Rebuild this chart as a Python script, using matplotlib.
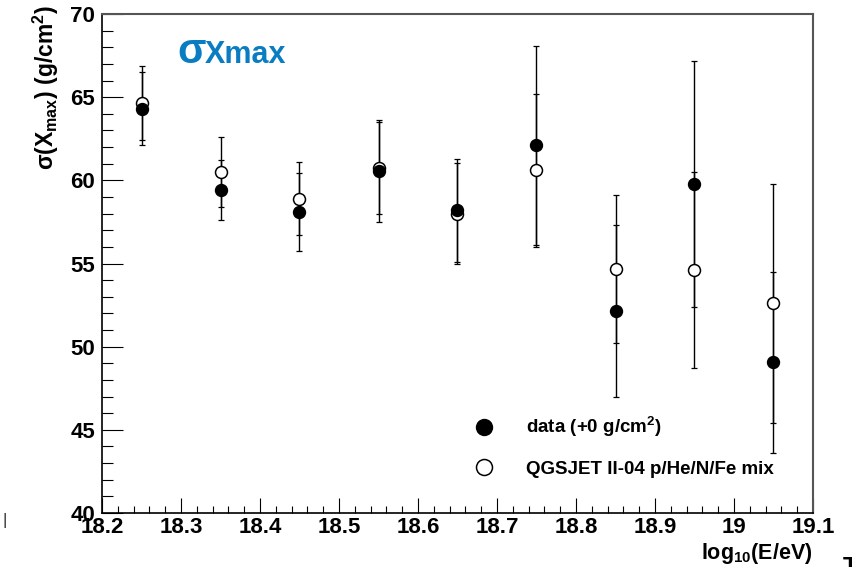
import matplotlib
matplotlib.use("Agg")
import matplotlib.pyplot as plt
from matplotlib.lines import Line2D
from matplotlib.ticker import MultipleLocator, FormatStrFormatter

plt.rcParams["font.family"] = ["Liberation Sans", "DejaVu Sans"]
plt.rcParams["font.weight"] = "bold"
plt.rcParams["mathtext.fontset"] = "custom"
plt.rcParams["mathtext.rm"] = "Liberation Sans"
plt.rcParams["mathtext.bf"] = "Liberation Sans:bold"
plt.rcParams["mathtext.it"] = "Liberation Sans:italic"

# log10(E/eV) bin centres
log_energy = [18.25, 18.35, 18.45, 18.55, 18.65, 18.75, 18.85, 18.95, 19.05]

# measured sigma(Xmax) and its uncertainty [g/cm^2]
data_sigma = [64.3, 59.4, 58.1, 60.55, 58.2, 62.1, 52.15, 59.8, 49.05]
data_err = [2.2, 1.8, 2.33, 3.05, 3.1, 6.0, 5.16, 7.4, 5.44]

# QGSJET II-04 p/He/N/Fe mixture prediction
model_sigma = [64.65, 60.5, 58.9, 60.75, 58.0, 60.6, 54.67, 54.6, 52.6]
model_err = [2.25, 2.1, 2.2, 2.77, 3.05, 4.6, 4.43, 5.9, 7.2]

data_label = "data (+0 g/cm$^{\\mathbf{2}}$)"
model_label = "QGSJET II-04 p/He/N/Fe mix"

fig = plt.figure(figsize=(8.52, 5.67), dpi=100)
ax = fig.add_axes([102 / 852, 1 - 513 / 567, 711 / 852, 499 / 567])

# error bars first, then the open and filled markers on top
ax.errorbar(log_energy, model_sigma, yerr=model_err, fmt="none", ecolor="black",
            elinewidth=1.0, capsize=2.5, capthick=0.9, zorder=2)
ax.errorbar(log_energy, data_sigma, yerr=data_err, fmt="none", ecolor="black",
            elinewidth=1.0, capsize=2.5, capthick=0.9, zorder=2)
ax.plot(log_energy, model_sigma, linestyle="none", marker="o", markersize=8.6,
        markerfacecolor="white", markeredgecolor="black", markeredgewidth=1.1, zorder=3)
ax.plot(log_energy, data_sigma, linestyle="none", marker="o", markersize=8.6,
        markerfacecolor="black", markeredgecolor="black", zorder=4)

ax.set_xlim(18.2, 19.1)
ax.set_ylim(40, 70)

ax.xaxis.set_major_locator(MultipleLocator(0.1))
ax.xaxis.set_minor_locator(MultipleLocator(0.02))
ax.yaxis.set_major_locator(MultipleLocator(5))
ax.yaxis.set_minor_locator(MultipleLocator(1))
ax.xaxis.set_major_formatter(FormatStrFormatter("%g"))
ax.yaxis.set_major_formatter(FormatStrFormatter("%g"))

ax.tick_params(axis="both", which="both", direction="in", top=False, right=False,
               width=0.8, color="black", labelsize=16)
ax.tick_params(axis="x", which="major", length=11, pad=3)
ax.tick_params(axis="x", which="minor", length=5)
ax.tick_params(axis="y", which="major", length=15, pad=5)
ax.tick_params(axis="y", which="minor", length=8)
for lab in ax.get_xticklabels() + ax.get_yticklabels():
    lab.set_fontweight("bold")

for side in ("left", "bottom"):
    ax.spines[side].set_linewidth(1.2)
    ax.spines[side].set_color("black")
for side in ("top", "right"):
    ax.spines[side].set_linewidth(1.5)
    ax.spines[side].set_color("#555555")

# axis titles
fig.text(813 / 852, 1 - 553 / 567, "log$_{\\mathbf{10}}$(E/eV)", ha="right", va="center",
         fontsize=15.5, fontweight="bold")
fig.text(46 / 852, 1 - 5 / 567,
         "$\\mathrm{\\sigma}$(X$_{\\mathbf{max}}$) (g/cm$^{\\mathbf{2}}$)",
         rotation=90, ha="center", va="top", fontsize=16.5, fontweight="bold")

# panel title
blue = "#0a7dc2"
fig.text(177 / 852, 1 - 63 / 567, "σ", ha="left", va="baseline", fontsize=30,
         fontweight="bold", color=blue)
fig.text(205 / 852, 1 - 63 / 567, "Xmax", ha="left", va="baseline", fontsize=22,
         fontweight="bold", color=blue)

# legend
handles = [
    Line2D([], [], linestyle="none", marker="o", markersize=11.5,
           markerfacecolor="black", markeredgecolor="black"),
    Line2D([], [], linestyle="none", marker="o", markersize=11.5,
           markerfacecolor="white", markeredgecolor="black", markeredgewidth=1.1),
]
leg = ax.legend(handles, [data_label, model_label], loc="upper left",
                bbox_to_anchor=((470 - 102) / 711, (513 - 415) / 499),
                frameon=False, fontsize=13.5, handletextpad=1.5, labelspacing=1.15,
                borderpad=0.0, borderaxespad=0.0, handlelength=1.5)
for t in leg.get_texts():
    t.set_fontweight("bold")

# fragments of neighbouring text at the image edges
fig.text(3 / 852, 1 - 521 / 567, "|", ha="left", va="center", fontsize=12,
         fontweight="normal", color="#333333")
fig.text(843 / 852, 1 - 575 / 567, "T", ha="left", va="baseline", fontsize=18,
         fontweight="bold")

fig.savefig("out.png", dpi=100)
